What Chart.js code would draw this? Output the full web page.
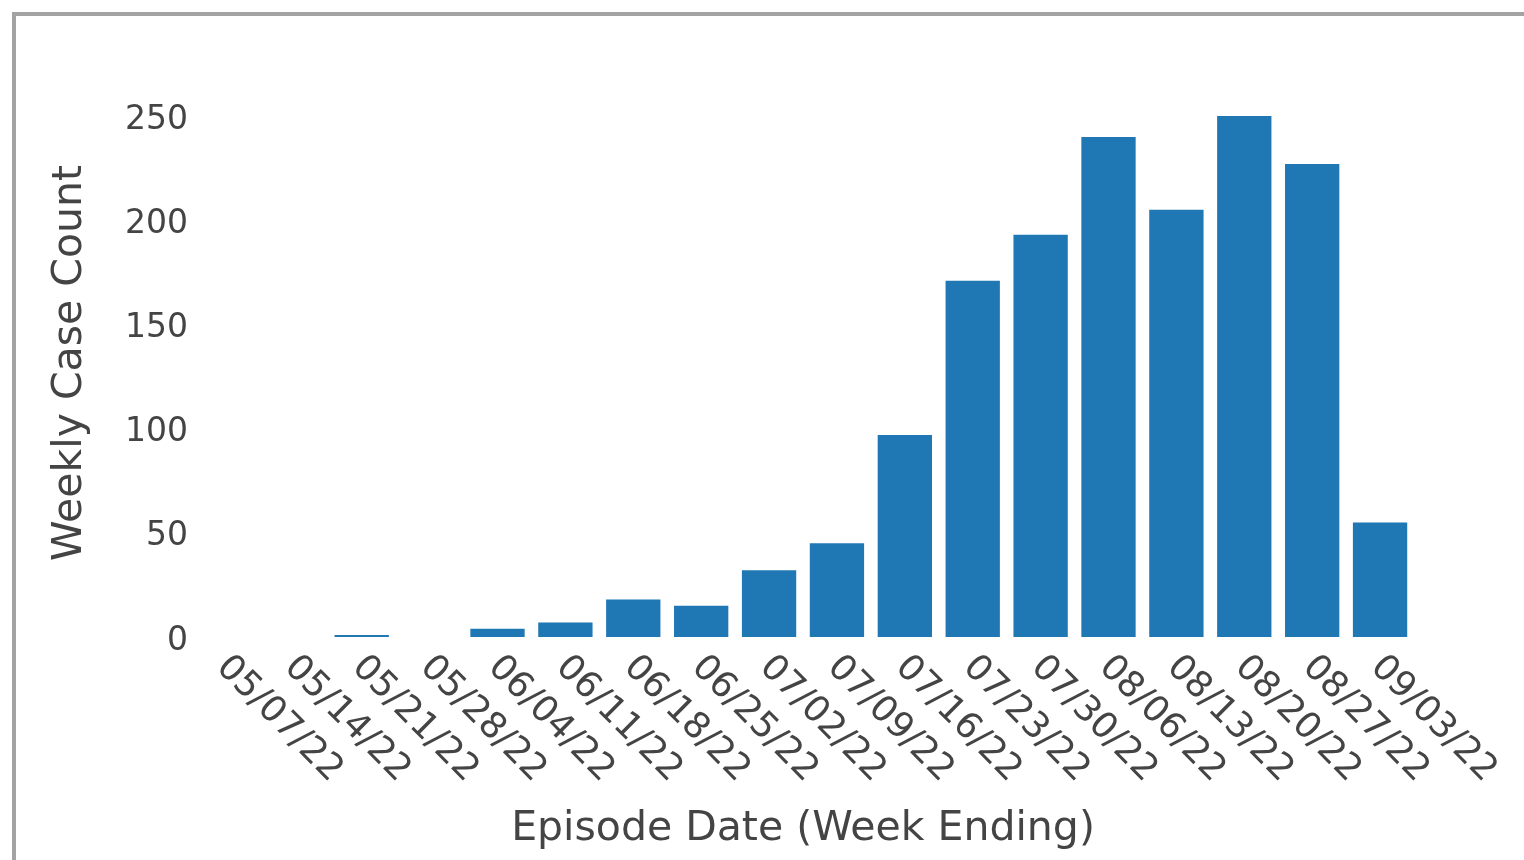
<!DOCTYPE html>
<html lang="en">

<head>
  <meta charset="UTF-8">
  <title>Weekly Case Count</title>
  <script src="https://cdn.jsdelivr.net/npm/chart.js"></script>
  <style>
    html, body {
      margin: 0;
      padding: 0;
      background: #fff;
      overflow: hidden;
    }
    #frame {
      position: absolute;
      left: 12px;
      top: 12px;
      width: 1600px;
      height: 900px;
      border-left: 4px solid #a3a3a3;
      border-top: 4px solid #a3a3a3;
    }
    #chartBox {
      position: absolute;
      left: 0;
      top: 0;
    }
  </style>
</head>

<body>
  <div id="frame"></div>
  <canvas id="chartBox" width="1524" height="860"></canvas>

  <script>
    // week ending dates and weekly counts
    var weekLabels = ['05/07/22', '05/14/22', '05/21/22', '05/28/22', '06/04/22', '06/11/22',
      '06/18/22', '06/25/22', '07/02/22', '07/09/22', '07/16/22', '07/23/22',
      '07/30/22', '08/06/22', '08/13/22', '08/20/22', '08/27/22', '09/03/22'];
    var caseCounts = [0, 0, 1, 0, 4, 7, 18, 15, 32, 45, 97, 171, 193, 240, 205, 250, 227, 55];
    var yTicks = [0, 50, 100, 150, 200, 250];

    var textColor = '#444';
    var fontFamily = '"DejaVu Sans", Verdana, sans-serif';

    // x labels are slanted down to the right, which Chart.js won't do on its own
    var slantedLabels = {
      id: 'slantedLabels',
      afterDraw: function (chart) {
        var ctx = chart.ctx;
        var xs = chart.scales.x;
        ctx.save();
        ctx.font = '36px ' + fontFamily;
        ctx.fillStyle = textColor;
        ctx.textAlign = 'left';
        ctx.textBaseline = 'middle';
        xs.ticks.forEach(function (t, i) {
          var x = xs.getPixelForTick(i);
          ctx.save();
          ctx.translate(x - 4, xs.top + 25);
          ctx.rotate(Math.PI / 4);
          ctx.fillText(weekLabels[i], 0, 0);
          ctx.restore();
        });
        ctx.restore();
      }
    };

    var ctx = document.getElementById('chartBox').getContext('2d');
    var myChart = new Chart(ctx, {
      type: 'bar',
      data: {
        labels: weekLabels,
        datasets: [{
          label: 'Weekly Case Count',
          data: caseCounts,
          backgroundColor: '#1f77b4',
          borderWidth: 0,
          barPercentage: 0.8,
          categoryPercentage: 1.0
        }]
      },
      options: {
        responsive: false,
        animation: false,
        layout: {
          padding: { left: 46, top: 89, right: 110, bottom: 0 }
        },
        plugins: {
          legend: { display: false },
          tooltip: { enabled: false }
        },
        scales: {
          x: {
            grid: { display: false },
            border: { display: false },
            ticks: { display: false },
            afterFit: function (scale) { scale.height = 223; },
            title: {
              display: true,
              text: 'Episode Date (Week Ending)',
              color: textColor,
              font: { family: fontFamily, size: 41 },
              padding: { top: 0, bottom: 6 }
            }
          },
          y: {
            min: 0,
            max: 263,
            grid: { display: false },
            border: { display: false },
            afterFit: function (scale) { scale.width = 146; },
            afterBuildTicks: function (scale) {
              scale.ticks = yTicks.map(function (v) { return { value: v }; });
            },
            ticks: {
              color: textColor,
              padding: -4,
              labelOffset: 4,
              font: { family: fontFamily, size: 33 }
            },
            title: {
              display: true,
              text: 'Weekly Case Count',
              color: textColor,
              font: { family: fontFamily, size: 41 },
              padding: { top: 0, bottom: 0 }
            }
          }
        }
      },
      plugins: [slantedLabels]
    });
  </script>
</body>

</html>
